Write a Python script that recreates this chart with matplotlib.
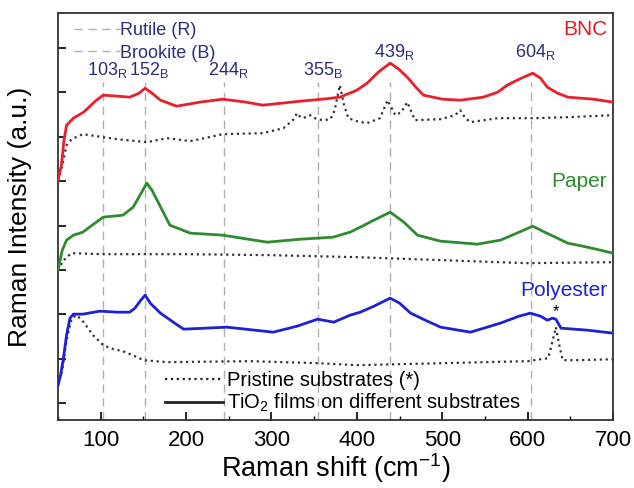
import numpy as np
import matplotlib.pyplot as plt
from matplotlib.lines import Line2D

plt.rcParams['font.family'] = ['Liberation Sans', 'DejaVu Sans']
plt.rcParams['axes.unicode_minus'] = False

# ---------------- data (arbitrary units) ----------------
bnc_x = [50, 54, 57, 60, 68, 80, 95, 103, 120, 134, 145, 152, 160, 170, 189, 216, 243, 270, 290, 334,
         360, 380, 400, 412, 425, 439, 449, 459, 470, 478, 500, 521, 548, 565, 576, 590, 606, 615, 623,
         635, 647, 677, 700]
bnc_y = [240, 255, 280, 295, 302, 308, 320, 325, 324, 323, 327, 332, 327, 320, 314, 318, 321, 318, 315, 319,
         321, 323, 330, 337, 348, 357, 351, 343, 332, 325, 321, 320, 323, 328, 335, 341, 347, 342, 333,
         327, 323, 321, 318]

bnc_sub_x = [50, 55, 60, 66, 79, 103, 119, 154, 178, 205, 243, 290, 314, 325, 330, 334, 337, 345, 353, 361,
             369, 374, 380, 385, 390, 400, 412, 427, 436, 445, 452, 459, 468, 498, 515, 521, 527, 533, 565,
             607, 647, 700]
bnc_sub_y = [240, 255, 275, 281, 286, 283, 281, 278, 282, 279, 286, 287, 292, 300, 307, 303, 302, 305, 301, 300,
             301, 310, 335, 315, 302, 299, 297, 302, 320, 305, 308, 318, 300, 301, 305, 310, 302, 298, 302,
             302, 303, 305]

paper_x = [50, 55, 60, 68, 79, 90, 103, 126, 138, 146, 154, 160, 166, 181, 205, 243, 295, 334, 354, 372,
           392, 404, 420, 439, 455, 471, 498, 541, 568, 590, 606, 620, 647, 670, 700]
paper_y = [150, 170, 180, 185, 188, 195, 203, 205, 213, 225, 237, 230, 220, 195, 187, 185, 178, 181, 182, 183,
           188, 193, 200, 208, 198, 185, 179, 176, 180, 188, 194, 188, 177, 173, 167]

paper_sub_x = [50, 55, 60, 66, 100, 200, 300, 400, 500, 600, 700]
paper_sub_y = [150, 158, 163, 167, 166, 166, 165, 163, 160, 157, 158]

poly_x = [50, 53, 56, 60, 64, 68, 79, 99, 119, 134, 140, 147, 152, 158, 170, 185, 197, 248, 302, 330,
          354, 373, 392, 404, 420, 439, 450, 463, 480, 498, 533, 568, 590, 603, 615, 623, 629, 633, 639, 670, 700]
poly_y = [35, 45, 60, 85, 102, 106, 106, 109, 108, 108, 112, 120, 125, 117, 107, 98, 91, 93, 88, 94,
          101, 98, 105, 108, 114, 122, 117, 107, 100, 93, 88, 97, 104, 107, 104, 100, 102, 101, 92, 90, 87]

poly_sub_x = [50, 55, 60, 66, 72, 80, 91, 103, 115, 126, 140, 150, 178, 275, 354, 400, 500, 600, 624, 628,
              633, 637, 641, 660, 700]
poly_sub_y = [35, 50, 80, 102, 105, 98, 85, 75, 71, 69, 64, 60, 58, 59, 57, 55, 57, 59, 62, 75,
              93, 75, 60, 60, 61]

peak_pos = [103, 152, 244, 355, 439, 604]
peak_phase = ['R', 'B', 'R', 'B', 'R', 'R']

# ---------------- plot ----------------
fig = plt.figure(figsize=(6.34, 4.88), dpi=100)
ax = fig.add_axes([0.0915, 0.139, 0.8755, 0.834])

navy = '#2a2f7c'
for p in peak_pos:
    ax.axvline(p, ymax=0.83, color='#b0b0b0', ls=(0, (6, 4)), lw=1, zorder=1)

ax.plot(bnc_x, bnc_y, color='#e8202a', lw=2, zorder=3)
ax.plot(bnc_sub_x, bnc_sub_y, color='#333333', ls=':', lw=1.6, zorder=2)
ax.plot(paper_x, paper_y, color='#2e8b2e', lw=2, zorder=3)
ax.plot(paper_sub_x, paper_sub_y, color='#333333', ls=':', lw=1.6, zorder=2)
ax.plot(poly_x, poly_y, color='#1f1fd8', lw=2, zorder=3)
ax.plot(poly_sub_x, poly_sub_y, color='#333333', ls=':', lw=1.6, zorder=2)

# peak labels: digits centred on the line, phase letter as subscript
for p, ph in zip(peak_pos, peak_phase):
    yl = 363 if p in (439, 604) else 345
    ax.text(p + 5, yl, f'{p}$_{{\\mathregular{{{ph}}}}}$', color=navy, fontsize=13,
            ha='center', va='baseline')

ax.text(693, 385, 'BNC', color='#e02020', fontsize=15, ha='right')
ax.text(693, 233, 'Paper', color='#2e8b2e', fontsize=15, ha='right')
ax.text(693, 124, 'Polyester', color='#2020d0', fontsize=15, ha='right')
ax.text(633, 104, '*', color='black', fontsize=12, ha='center')

# legends
leg1 = ax.legend(handles=[Line2D([], [], color='#b0b0b0', ls=(0, (6, 4)), lw=1),
                          Line2D([], [], color='#b0b0b0', ls=(0, (6, 4)), lw=1)],
                 labels=['Rutile (R)', 'Brookite (B)'], loc='upper left', frameon=False,
                 fontsize=13, handlelength=2.5, handletextpad=0.05, labelspacing=0.3,
                 bbox_to_anchor=(0.01, 1.004), borderaxespad=0.2)
for t in leg1.get_texts():
    t.set_color(navy)
ax.add_artist(leg1)

ax.legend(handles=[Line2D([], [], color='#222222', ls=':', lw=1.6),
                   Line2D([], [], color='#222222', lw=2)],
          labels=['Pristine substrates (*)', 'TiO$_\\mathregular{2}$ films on different substrates'],
          loc='lower left', bbox_to_anchor=(0.16, -0.03), frameon=False, fontsize=14.5,
          handlelength=2.9, handletextpad=0.2, labelspacing=0.1)

ax.set_xlim(50, 700)
ax.set_ylim(0, 407)
ax.set_xticks(np.arange(100, 701, 100))
ax.set_xticks(np.arange(50, 701, 50), minor=True)
ax.set_yticks(17 + 44.4 * np.arange(9))
ax.set_yticklabels([])
ax.tick_params(direction='in', length=6, width=1.2, labelsize=16, pad=7)
ax.tick_params(which='minor', direction='in', length=3, width=1)
for s in ax.spines.values():
    s.set_linewidth(1.3)
    s.set_color('#333333')

ax.set_xlabel('Raman shift (cm$^\\mathregular{-1}$)', fontsize=19.5, labelpad=0)
ax.set_ylabel('Raman Intensity (a.u.)', fontsize=19, labelpad=12)

fig.savefig('out.png', dpi=100)
